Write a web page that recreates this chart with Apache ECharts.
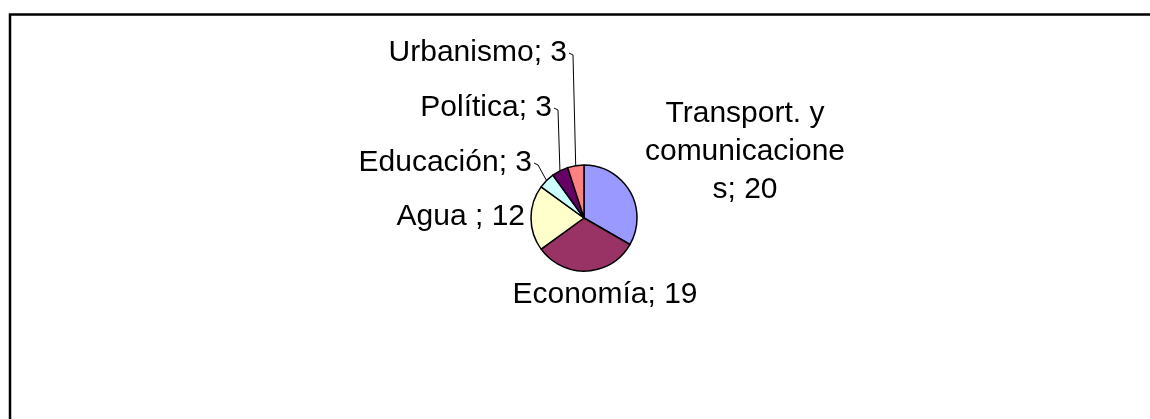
<!DOCTYPE html>
<html>
<head>
<meta charset="utf-8">
<script src="https://cdn.jsdelivr.net/npm/echarts@6/dist/echarts.min.js"></script>
<style>
html,body{margin:0;padding:0;background:#fff;}
#c{width:1150px;height:419px;}
</style>
</head>
<body>
<div id="c"></div>
<script>
const categories = ['Transport. y comunicaciones', 'Economía', 'Agua ', 'Educación', 'Política', 'Urbanismo'];
const values = [20, 19, 12, 3, 3, 3];
const colors = ['#9999FF', '#993366', '#FFFFCC', '#CCFFFF', '#660066', '#FF8080'];

const CX = 584, CY = 218, R = 53;
// label placement relative to pie centre (layout only)
const labelSpec = [
  {dx: 161, dy: -66, align: 'center', line: false},
  {dx: 21, dy: 77, align: 'center', line: false},
  {dx: -59, dy: -1, align: 'right', line: false},
  {dx: -52, dy: -55, align: 'right', line: true},
  {dx: -32, dy: -110, align: 'right', line: true},
  {dx: -17, dy: -165, align: 'right', line: true}
];

function wrap(text, maxLen) {
  const words = text.split(' ');
  const lines = [];
  let cur = '';
  words.forEach(w => {
    const cand = cur ? cur + ' ' + w : w;
    if (cand.length <= maxLen) { cur = cand; return; }
    if (cur) lines.push(cur);
    cur = w;
    while (cur.length > maxLen) { lines.push(cur.slice(0, maxLen)); cur = cur.slice(maxLen); }
  });
  if (cur) lines.push(cur);
  return lines.join('\n');
}

const chart = echarts.init(document.getElementById('c'), null, {renderer: 'canvas'});
const option = {
  animation: false,
  backgroundColor: '#fff',
  graphic: [{
    type: 'rect',
    shape: {x: 10, y: 14.5, width: 1300, height: 600},
    style: {fill: 'none', stroke: '#000', lineWidth: 2.5},
    silent: true, z: -1
  }],
  series: [{
    type: 'pie',
    center: [CX, CY],
    radius: [0, R],
    startAngle: 90,
    clockwise: true,
    avoidLabelOverlap: false,
    itemStyle: {borderColor: '#000', borderWidth: 1.5},
    label: {
      show: true,
      position: 'outside',
      color: '#000',
      fontFamily: 'Liberation Sans, Arial, sans-serif',
      fontSize: 30,
      lineHeight: 38,
      formatter: p => wrap(p.name + '; ' + p.value, 13)
    },
    labelLine: {show: true, lineStyle: {color: '#000', width: 1}, length: 5, length2: 5},
    labelLayout: function (params) {
      const s = labelSpec[params.dataIndex];
      const x = CX + s.dx, y = CY + s.dy;
      const res = {x: x, y: y, align: s.align, verticalAlign: 'middle'};
      if (s.line && params.labelLinePoints) {
        const edge = params.labelLinePoints[0];
        res.labelLinePoints = [[x + 2, y], [x + 6, y + 2], [edge[0], edge[1]]];
      } else {
        res.labelLinePoints = [[0, 0], [0, 0], [0, 0]];
      }
      return res;
    },
    data: categories.map((c, i) => ({
      name: c,
      value: values[i],
      itemStyle: {color: colors[i]},
      labelLine: {show: labelSpec[i].line}
    }))
  }]
};
chart.setOption(option);
</script>
</body>
</html>
